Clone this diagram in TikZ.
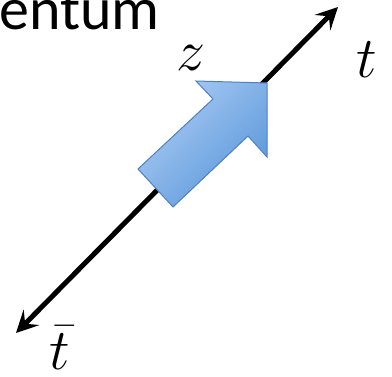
\RequirePackage{fix-cm}
\documentclass[tikz,border=0pt]{standalone}
\usepackage{fontspec}
\newfontfamily\slidefont{Carlito}
\usetikzlibrary{arrows.meta}
\definecolor{lightblu}{HTML}{A9CBF3}
\definecolor{darkblu}{HTML}{5B97DA}
\definecolor{edgeblu}{HTML}{4F81BD}
\tikzset{
  axisline/.style={line width=5pt, black,
    {Stealth[length=22pt,width=22pt,inset=9pt]}-{Stealth[length=22pt,width=22pt,inset=9pt]}},
  bigmath/.style={font=\fontsize{58}{60}\selectfont, inner sep=0pt},
  blockarrow/.style={draw=edgeblu, line width=1pt, left color=lightblu, right color=darkblu, shading angle=45, line join=miter}
}
\begin{document}
\begin{tikzpicture}[x=1pt,y=1pt]
\useasboundingbox (0,0) rectangle (392,376);
\node[anchor=base west, inner sep=0pt, font=\slidefont\fontsize{60}{62}\selectfont] (title) at (-1,347) {entum};
\coordinate (tbarend) at (16,43);
\coordinate (tend) at (338,369);
\draw[axisline] (tbarend) -- (tend);
\path[blockarrow] (267,293) -- (196,295) -- (213,277) -- (138,207) -- (173,169) -- (248,240) -- (267,219) -- cycle;
\node[bigmath] (zlab) at (191,318) {$z$};
\node[bigmath] (tlab) at (367,316) {$t$};
\node[bigmath] (tbarlab) at (60,28) {$\bar{t}$};
\end{tikzpicture}
\end{document}
